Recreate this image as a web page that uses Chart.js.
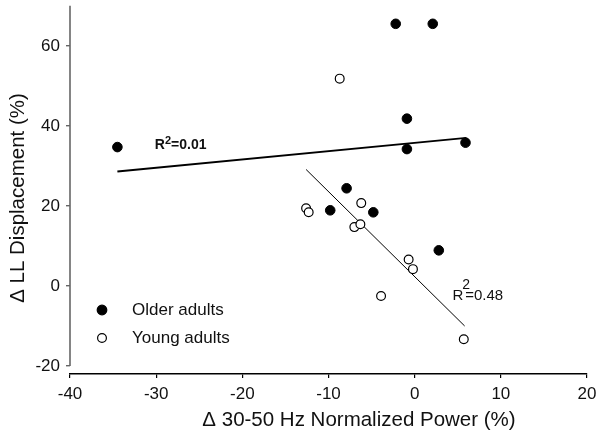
<!DOCTYPE html>
<html>
<head>
<meta charset="utf-8">
<script src="https://cdn.jsdelivr.net/npm/chart.js@4/dist/chart.umd.min.js"></script>
<style>
  html, body { margin: 0; padding: 0; background: #fff; }
  #wrap { width: 600px; height: 436px; }
</style>
</head>
<body>
<div id="wrap"><canvas id="c"></canvas></div>
<script>
// valeurs
const xTicks = [-40, -30, -20, -10, 0, 10, 20]
const yTicks = [-20, 0, 20, 40, 60]

const olderX = [-34.5, -2.2, 2.1, -0.9, -0.9, 5.9, -7.9, -9.8, -4.8, 2.8]
const olderY = [34.7, 65.5, 65.5, 41.8, 34.2, 35.8, 24.4, 18.9, 18.4, 8.9]

const youngX = [-8.7, -6.2, -12.6, -12.3, -7.0, -6.3, -0.7, -0.2, -3.9, 5.7]
const youngY = [51.8, 20.7, 19.4, 18.4, 14.7, 15.4, 6.6, 4.2, -2.5, -13.3]

const olderFitX = [-34.5, 6.0]
const olderFitY = [28.6, 37.0]
const youngFitX = [-12.6, 5.8]
const youngFitY = [29.1, -10.0]

const xTitle = "\u0394 30-50 Hz Normalized Power (%)"
const yTitle = "\u0394 LL Displacement (%)"
const legendLabels = ["Older adults", "Young adults"]

const FONT = "'Liberation Sans', Arial, sans-serif"

const toPoints = (xs, ys) => xs.map((x, i) => ({ x: x, y: ys[i] }))

// axes, titres, légende et R² dessinés à la main
const decorations = {
    id: "decorations",
    afterDraw(chart) {
        const ctx = chart.ctx
        const xs = chart.scales.x
        const ys = chart.scales.y
        const left = chart.chartArea.left
        ctx.save()

        // axe Y qui s'arrête à -20
        ctx.strokeStyle = "#666"
        ctx.lineWidth = 1.6
        ctx.beginPath()
        ctx.moveTo(left, ys.getPixelForValue(-20))
        ctx.lineTo(left, ys.getPixelForValue(70))
        ctx.stroke()

        ctx.fillStyle = "#111"
        ctx.font = "20.5px " + FONT
        ctx.textAlign = "center"
        ctx.textBaseline = "middle"
        ctx.fillText(xTitle, 359, 420)

        ctx.save()
        ctx.translate(18, 198)
        ctx.rotate(-Math.PI / 2)
        ctx.fillText(yTitle, 0, 0)
        ctx.restore()

        // légende
        const rows = [310, 338]
        ctx.font = "17px " + FONT
        ctx.textAlign = "left"
        rows.forEach((py, i) => {
            ctx.beginPath()
            ctx.arc(102, py, i === 0 ? 4.8 : 4.4, 0, Math.PI * 2)
            ctx.fillStyle = i === 0 ? "#000" : "#fff"
            ctx.fill()
            ctx.strokeStyle = "#000"
            ctx.lineWidth = 1.2
            ctx.stroke()
            ctx.fillStyle = "#111"
            ctx.fillText(legendLabels[i], 132, py)
        })

        // R² annotations
        ctx.textBaseline = "alphabetic"
        let px = xs.getPixelForValue(-30.15)
        let py = ys.getPixelForValue(34.2)
        ctx.font = "bold 14px " + FONT
        ctx.fillText("R", px, py)
        let w = ctx.measureText("R").width
        ctx.font = "bold 11px " + FONT
        ctx.fillText("2", px + w, py - 5)
        w += ctx.measureText("2").width
        ctx.font = "bold 14px " + FONT
        ctx.fillText("=0.01", px + w, py)

        px = xs.getPixelForValue(4.38)
        py = ys.getPixelForValue(-3.4)
        ctx.font = "15px " + FONT
        ctx.fillText("R", px, py)
        w = ctx.measureText("R").width
        ctx.font = "14px " + FONT
        ctx.fillText("2", px + w - 1, py - 11)
        ctx.font = "15px " + FONT
        ctx.fillText("=0.48", px + w + 2, py)

        ctx.restore()
    },
}

new Chart(document.getElementById("c"), {
    type: "scatter",
    data: {
        datasets: [
            {
                label: legendLabels[0],
                data: toPoints(olderX, olderY),
                backgroundColor: "#000",
                borderColor: "#000",
                borderWidth: 1,
                pointRadius: 4.8,
            },
            {
                label: legendLabels[1],
                data: toPoints(youngX, youngY),
                backgroundColor: "#fff",
                borderColor: "#000",
                borderWidth: 1.2,
                pointRadius: 4.4,
            },
            {
                type: "line",
                data: toPoints(olderFitX, olderFitY),
                borderColor: "#000",
                borderWidth: 2,
                pointRadius: 0,
                fill: false,
            },
            {
                type: "line",
                data: toPoints(youngFitX, youngFitY),
                borderColor: "#000",
                borderWidth: 1,
                pointRadius: 0,
                fill: false,
            },
        ],
    },
    options: {
        responsive: true,
        maintainAspectRatio: false,
        animation: false,
        layout: { padding: { top: 5, right: 13, bottom: 0, left: 0 } },
        plugins: {
            legend: { display: false },
            tooltip: { enabled: false },
        },
        scales: {
            x: {
                type: "linear",
                min: -40,
                max: 20,
                afterBuildTicks: (s) => { s.ticks = xTicks.map((v) => ({ value: v })) },
                afterFit: (s) => { s.height = 62; s.paddingLeft = 0; s.paddingRight = 0 },
                grid: { drawOnChartArea: false, drawTicks: true, tickLength: 4, color: "#000", lineWidth: 1.2 },
                border: { display: true, color: "#000", width: 1.4 },
                ticks: { font: { size: 17, family: FONT }, color: "#111", padding: 6, maxRotation: 0 },
            },
            y: {
                type: "linear",
                min: -22,
                max: 70,
                afterBuildTicks: (s) => { s.ticks = yTicks.map((v) => ({ value: v })) },
                afterFit: (s) => { s.width = 70; s.paddingTop = 0; s.paddingBottom = 0 },
                grid: { drawOnChartArea: false, drawTicks: true, tickLength: 4, color: "#666", lineWidth: 1.4 },
                border: { display: false },
                ticks: { font: { size: 17, family: FONT }, color: "#111", padding: 6 },
            },
        },
    },
    plugins: [decorations],
})
</script>
</body>
</html>
